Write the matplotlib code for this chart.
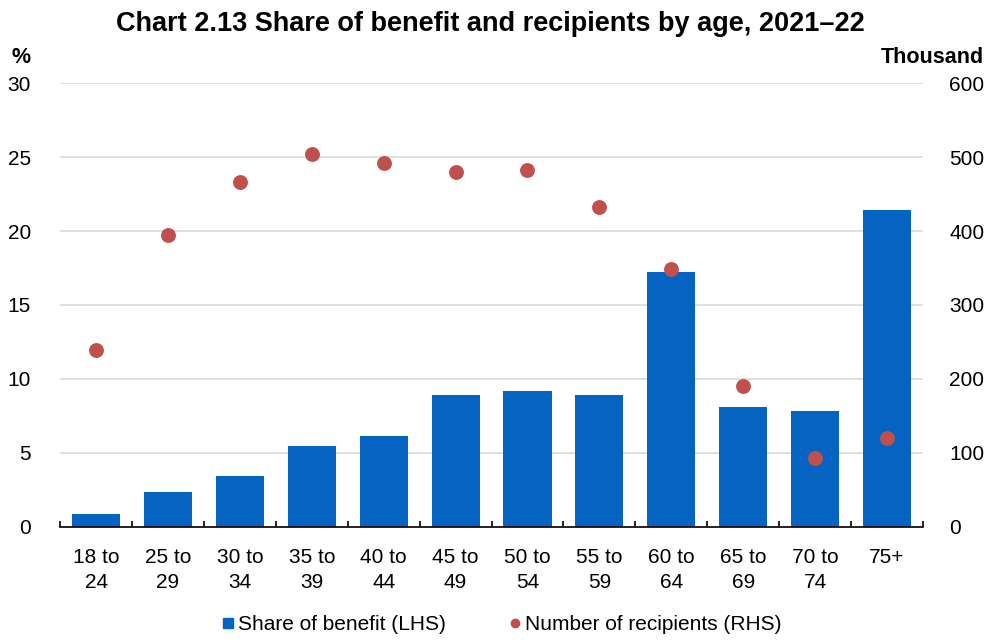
import numpy as np
import matplotlib.pyplot as plt
from matplotlib.lines import Line2D

plt.rcParams['font.family'] = ['Liberation Sans', 'DejaVu Sans']

ages = ['18 to\n24', '25 to\n29', '30 to\n34', '35 to\n39', '40 to\n44', '45 to\n49',
        '50 to\n54', '55 to\n59', '60 to\n64', '65 to\n69', '70 to\n74', '75+']
share = [0.88, 2.36, 3.45, 5.47, 6.15, 8.92, 9.19, 8.92, 17.23, 8.1, 7.84, 21.4]
recipients = [239, 395, 466, 504, 492, 480, 482, 432, 349, 190, 93, 120]

blue = '#0563C1'
red = '#C0504D'

fig = plt.figure(figsize=(9.87, 6.4), dpi=100)
ax1 = fig.add_axes([0.061, 0.177, 0.874, 0.693])
ax2 = ax1.twinx()

x = np.arange(len(ages))
ax1.bar(x, share, width=0.67, color=blue, zorder=2)
ax2.scatter(x, recipients, s=115, color=red, lw=0, zorder=3)

ax1.set_xlim(-0.5, len(ages) - 0.5)
ax1.set_ylim(0, 30)
ax2.set_ylim(0, 600)
ax1.set_yticks(np.arange(0, 31, 5))
ax2.set_yticks(np.arange(0, 601, 100))
ax1.yaxis.grid(True, color='#d9d9d9', lw=1.2, zorder=0)
ax1.set_axisbelow(True)

ax1.set_xticks(x)
ax1.set_xticklabels(ages, fontsize=15, linespacing=1.45)
ax1.set_xticks(np.arange(-0.5, len(ages), 1), minor=True)
ax1.tick_params(axis='x', which='major', length=0, pad=15)
ax1.tick_params(axis='x', which='minor', length=4, width=1.2, color='black', direction='in')
ax1.tick_params(axis='y', length=0, labelsize=15, pad=21)
ax2.tick_params(axis='y', length=0, labelsize=15, pad=19)

for a in (ax1, ax2):
    for s in ['top', 'left', 'right']:
        a.spines[s].set_visible(False)
ax1.spines['bottom'].set_color('black')
ax1.spines['bottom'].set_linewidth(1.2)
ax1.spines['bottom'].set_zorder(4)
ax2.spines['bottom'].set_visible(False)

fig.text(0.497, 0.962, 'Chart 2.13 Share of benefit and recipients by age, 2021\u201322',
         ha='center', va='center', fontsize=19.5, fontweight='bold')
fig.text(0.012, 0.91, '%', ha='left', va='center', fontsize=15.5, fontweight='bold')
fig.text(0.997, 0.91, 'Thousand', ha='right', va='center', fontsize=15.5, fontweight='bold')

handles = [Line2D([], [], marker='s', ls='', color=blue, markersize=7.2),
           Line2D([], [], marker='o', ls='', color=red, markersize=6)]
fig.legend(handles, ['Share of benefit (LHS)', 'Number of recipients (RHS)'],
           loc='center', bbox_to_anchor=(0.507, 0.024), ncol=2, frameon=False,
           fontsize=15, handletextpad=0.1, columnspacing=2.9, handlelength=0.8)

fig.savefig('out.png', dpi=100)
